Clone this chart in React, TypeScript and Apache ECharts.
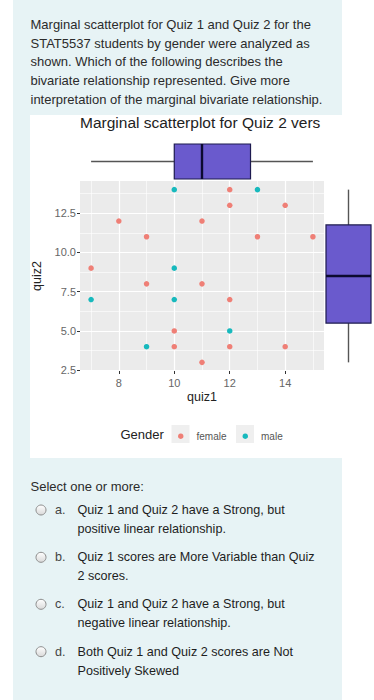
import React, { useEffect, useRef } from "react";
import * as echarts from "echarts";

const questionLines = [
  "Marginal scatterplot for Quiz 1 and Quiz 2 for the",
  "STAT5537 students by gender were analyzed as",
  "shown. Which of the following describes the",
  "bivariate relationship represented. Give more",
  "interpretation of the marginal bivariate relationship.",
];
const chartTitle = "Marginal scatterplot for Quiz 2 vers";
const selectPrompt = "Select one or more:";
const optionLetters = ["a.", "b.", "c.", "d."];
const optionLines = [
  ["Quiz 1 and Quiz 2 have a Strong, but", "positive linear relationship."],
  ["Quiz 1 scores are More Variable than Quiz", "2 scores."],
  ["Quiz 1 and Quiz 2 have a Strong, but", "negative linear relationship."],
  ["Both Quiz 1 and Quiz 2 scores are Not", "Positively Skewed"],
];

const femaleQuiz1 = [12, 12, 14, 8, 11, 9, 13, 15, 7, 9, 11, 12, 10, 10, 12, 14, 11];
const femaleQuiz2 = [14, 13, 13, 12, 12, 11, 11, 11, 9, 8, 8, 7, 5, 4, 4, 4, 3];
const maleQuiz1 = [10, 13, 10, 7, 10, 12, 9];
const maleQuiz2 = [14, 14, 9, 7, 7, 5, 4];

// five-number summaries
const quiz1Box = [7, 10, 11, 12.75, 15];
const quiz2Box = [3, 5.5, 8.5, 11.75, 14];

const xMajor = [8, 10, 12, 14];
const xMinor = [7, 9, 11, 13, 15];
const yMajor = [2.5, 5, 7.5, 10, 12.5];
const yMinor = [3.75, 6.25, 8.75, 11.25, 13.75];

const FONT = "'Liberation Sans', Arial, Helvetica, sans-serif";
const FEMALE = "#ef7f76";
const MALE = "#17b9bd";
const BOX_FILL = "#6a5acd";
const BOX_EDGE = "#1d1a4f";
const MEDIAN = "#0c0a30";
const WHISKER = "#555555";

export default function App() {
  const ref = useRef<HTMLDivElement>(null);

  useEffect(() => {
    if (!ref.current) return;
    const chart = echarts.init(ref.current, undefined, { renderer: "svg" });

    const female = femaleQuiz1.map((x, i) => [x, femaleQuiz2[i]]);
    const male = maleQuiz1.map((x, i) => [x, maleQuiz2[i]]);

    const gridLines: any[] = [
      ...xMinor.map((v) => ({ xAxis: v, lineStyle: { width: 0.6 } })),
      ...yMinor.map((v) => ({ yAxis: v, lineStyle: { width: 0.6 } })),
      ...xMajor.map((v) => ({ xAxis: v, lineStyle: { width: 1.2 } })),
      ...yMajor.map((v) => ({ yAxis: v, lineStyle: { width: 1.2 } })),
    ];

    const graphic: any[] = [
      { type: "rect", z: -10, silent: true, shape: { x: 13, y: 0, width: 329, height: 700 }, style: { fill: "#e7f3f5" } },
      { type: "rect", z: -9, silent: true, shape: { x: 30, y: 115, width: 344, height: 343 }, style: { fill: "#ffffff" } },
    ];
    questionLines.forEach((t, i) => {
      graphic.push({
        type: "text", x: 30.5, y: 24.5 + i * 18.7,
        style: { text: t, fontSize: 13, fontFamily: FONT, fill: "#2b2b2b", verticalAlign: "middle", align: "left" },
      });
    });
    graphic.push({
      type: "text", x: 120.5, y: 434,
      style: { text: "Gender", fontSize: 13, fontFamily: FONT, fill: "#222", verticalAlign: "middle" },
    });
    graphic.push({ type: "rect", z: 1, shape: { x: 171.5, y: 425, width: 18, height: 18 }, style: { fill: "#efefef" } });
    graphic.push({ type: "rect", z: 1, shape: { x: 236, y: 425, width: 18, height: 18 }, style: { fill: "#efefef" } });
    graphic.push({
      type: "text", x: 30.5, y: 486.7,
      style: { text: selectPrompt, fontSize: 13, fontFamily: FONT, fill: "#2b2b2b", verticalAlign: "middle" },
    });
    const optY = [510, 557.3, 604.3, 651.7];
    optionLines.forEach((lines, i) => {
      graphic.push({
        type: "circle", shape: { cx: 41, cy: optY[i], r: 5 },
        style: {
          fill: new echarts.graphic.LinearGradient(0, 0, 0, 1, [
            { offset: 0, color: "#ffffff" },
            { offset: 1, color: "#d9d9d9" },
          ]),
          stroke: "#8c8c8c", lineWidth: 1,
        },
      });
      graphic.push({
        type: "text", x: 55, y: optY[i],
        style: { text: optionLetters[i], fontSize: 12.6, fontFamily: FONT, fill: "#444", verticalAlign: "middle" },
      });
      lines.forEach((t, j) => {
        graphic.push({
          type: "text", x: 77.5, y: optY[i] + j * 18.8,
          style: { text: t, fontSize: 12.6, fontFamily: FONT, fill: "#1e1e1e", verticalAlign: "middle" },
        });
      });
    });

    const option: any = {
      animation: false,
      title: {
        text: chartTitle, left: 80, top: 114, padding: 0,
        textStyle: { fontSize: 15.5, fontWeight: "normal", color: "#222", fontFamily: FONT },
      },
      legend: {
        data: ["female", "male"], left: 178, top: 431.2, padding: 0,
        icon: "circle", itemWidth: 5.5, itemHeight: 5.5, itemGap: 16, selectedMode: false,
        textStyle: { fontSize: 10, color: "#555", fontFamily: FONT, padding: [0, 0, 0, 8] },
      },
      graphic,
      grid: [
        { left: 80, top: 181, width: 244, height: 190, show: true, backgroundColor: "#ebebeb", borderWidth: 0, containLabel: false },
        { left: 80, top: 144, width: 244, height: 35, containLabel: false },
        { left: 326, top: 181, width: 45, height: 190, containLabel: false },
      ],
      xAxis: [
        {
          gridIndex: 0, type: "value", min: 6.6, max: 15.4,
          axisLine: { show: false },
          axisTick: { show: true, customValues: xMajor, length: 3, lineStyle: { color: "#333" } },
          axisLabel: { customValues: xMajor, fontSize: 11, color: "#666", margin: 6, fontFamily: FONT },
          splitLine: { show: false },
          name: "quiz1", nameLocation: "middle", nameGap: 19.5,
          nameTextStyle: { fontSize: 12.5, color: "#222", fontFamily: FONT },
        },
        { gridIndex: 1, type: "value", min: 6.6, max: 15.4, show: false },
        { gridIndex: 2, type: "value", min: 0, max: 1, show: false },
      ],
      yAxis: [
        {
          gridIndex: 0, type: "value", min: 2.45, max: 14.55,
          axisLine: { show: false },
          axisTick: { show: true, customValues: yMajor, length: 3, lineStyle: { color: "#333" } },
          axisLabel: {
            customValues: yMajor, fontSize: 11, color: "#666", margin: 4, fontFamily: FONT,
            formatter: (v: number) => v.toFixed(1),
          },
          splitLine: { show: false },
          name: "quiz2", nameLocation: "middle", nameGap: 21, nameRotate: 90,
          nameTextStyle: { fontSize: 12.5, color: "#222", fontFamily: FONT },
        },
        { gridIndex: 1, type: "value", min: 0, max: 1, show: false },
        { gridIndex: 2, type: "value", min: 2.45, max: 14.55, show: false },
      ],
      series: [
        {
          type: "scatter", name: "gridlines", xAxisIndex: 0, yAxisIndex: 0, data: [], silent: true, z: 1,
          markLine: {
            z: 1, silent: true, symbol: ["none", "none"], label: { show: false },
            lineStyle: { color: "#ffffff", type: "solid" },
            emphasis: { disabled: true },
            data: gridLines,
          },
        },
        {
          type: "scatter", name: "female", xAxisIndex: 0, yAxisIndex: 0, data: female, z: 3,
          symbol: "circle", symbolSize: 5.5, itemStyle: { color: FEMALE, opacity: 1 },
        },
        {
          type: "scatter", name: "male", xAxisIndex: 0, yAxisIndex: 0, data: male, z: 3,
          symbol: "circle", symbolSize: 5.5, itemStyle: { color: MALE, opacity: 1 },
        },
        {
          type: "custom", name: "quiz1 box", xAxisIndex: 1, yAxisIndex: 1, silent: true,
          data: [quiz1Box],
          renderItem: (params: any, api: any) => {
            const v = [0, 1, 2, 3, 4].map((i) => api.value(i));
            const p = v.map((x: number) => api.coord([x, 0.5]));
            const half = api.size([0, 1])[1] / 2;
            const yc = p[0][1];
            return {
              type: "group",
              children: [
                { type: "line", shape: { x1: p[0][0], y1: yc, x2: p[1][0], y2: yc }, style: { stroke: WHISKER, lineWidth: 1.4 } },
                { type: "line", shape: { x1: p[3][0], y1: yc, x2: p[4][0], y2: yc }, style: { stroke: WHISKER, lineWidth: 1.4 } },
                { type: "rect", shape: { x: p[1][0], y: yc - half, width: p[3][0] - p[1][0], height: half * 2 }, style: { fill: BOX_FILL, stroke: BOX_EDGE, lineWidth: 1.2 } },
                { type: "line", shape: { x1: p[2][0], y1: yc - half, x2: p[2][0], y2: yc + half }, style: { stroke: MEDIAN, lineWidth: 2.4 } },
              ],
            };
          },
        },
        {
          type: "custom", name: "quiz2 box", xAxisIndex: 2, yAxisIndex: 2, silent: true,
          data: [quiz2Box],
          renderItem: (params: any, api: any) => {
            const v = [0, 1, 2, 3, 4].map((i) => api.value(i));
            const p = v.map((y: number) => api.coord([0.5, y]));
            const half = api.size([1, 0])[0] / 2;
            const xc = p[0][0];
            return {
              type: "group",
              children: [
                { type: "line", shape: { x1: xc, y1: p[0][1], x2: xc, y2: p[1][1] }, style: { stroke: WHISKER, lineWidth: 1.4 } },
                { type: "line", shape: { x1: xc, y1: p[3][1], x2: xc, y2: p[4][1] }, style: { stroke: WHISKER, lineWidth: 1.4 } },
                { type: "rect", shape: { x: xc - half, y: p[3][1], width: half * 2, height: p[1][1] - p[3][1] }, style: { fill: BOX_FILL, stroke: BOX_EDGE, lineWidth: 1.2 } },
                { type: "line", shape: { x1: xc - half, y1: p[2][1], x2: xc + half, y2: p[2][1] }, style: { stroke: MEDIAN, lineWidth: 2.4 } },
              ],
            };
          },
        },
      ],
    };

    chart.setOption(option);
    return () => chart.dispose();
  }, []);

  return (
    <div
      ref={ref}
      style={{ position: "absolute", left: 0, top: 0, width: 374, height: 700, background: "#ffffff" }}
    />
  );
}
